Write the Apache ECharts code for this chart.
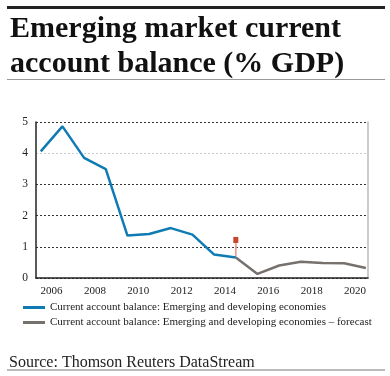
<!DOCTYPE html>
<html><head><meta charset="utf-8">
<script src="https://cdn.jsdelivr.net/npm/echarts@6/dist/echarts.min.js"></script>
<style>html,body{margin:0;padding:0;background:#fff}#c{width:390px;height:376px}</style>
</head><body><div id="c"></div>
<script>
const years = [2005,2006,2007,2008,2009,2010,2011,2012,2013,2014,2015,2016,2017,2018,2019,2020];
const actual = [4.06,4.86,3.85,3.49,1.36,1.41,1.60,1.39,0.75,0.66,null,null,null,null,null,null];
const forecast = [null,null,null,null,null,null,null,null,null,0.66,0.13,0.40,0.52,0.48,0.47,0.32];
const markerX = [2014.5,2014.5];
const markerY = [0.68,1.22];
const xTicks = [2006,2008,2010,2012,2014,2016,2018,2020];
const yTicks = [0,1,2,3,4,5];
const names = ['Current account balance: Emerging and developing economies','Current account balance: Emerging and developing economies \u2013 forecast'];
const titleText = 'Emerging market current\naccount balance (% GDP)';
const sourceText = 'Source: Thomson Reuters DataStream';

const serif = "'Liberation Serif', 'DejaVu Serif', serif";
const pair = (vals) => years.map((y,i)=>[y+0.5, vals[i]]);
const chart = echarts.init(document.getElementById('c'), null, {renderer:'canvas'});
chart.setOption({
  animation:false,
  title:[
    {text:titleText, left:5, top:7, textStyle:{fontFamily:serif, fontWeight:'bold', fontSize:30, lineHeight:35, color:'#111'}},
    {text:sourceText, left:4, top:350, textStyle:{fontFamily:serif, fontWeight:'normal', fontSize:16, color:'#222'}}
  ],
  graphic:[
    {type:'rect', shape:{x:7,y:6,width:378,height:3}, style:{fill:'#222'}},
    {type:'rect', shape:{x:7,y:79,width:378,height:1}, style:{fill:'#999'}},
    {type:'rect', shape:{x:7,y:369,width:378,height:2}, style:{fill:'#bbb'}}
  ],
  legend:{
    orient:'vertical', left:18, top:297, itemWidth:22, itemHeight:3, itemGap:4,
    icon:'rect',
    textStyle:{fontFamily:serif, fontSize:11, color:'#222'},
    data:[{name:names[0]},{name:names[1]}]
  },
  grid:{left:36, right:22, top:122, bottom:98},
  xAxis:{
    type:'value', min:2005.28, max:2020.6,
    axisLine:{show:true, lineStyle:{color:'#222', width:1.5}},
    axisTick:{show:false},
    splitLine:{show:false},
    axisLabel:{customValues:xTicks, fontFamily:serif, fontSize:11, color:'#222', margin:8, formatter:v=>String(v)}
  },
  yAxis:[{
    type:'value', min:0, max:5, interval:1,
    axisLine:{show:true, lineStyle:{color:'#222', width:1.5}},
    axisTick:{show:false},
    axisLabel:{fontFamily:serif, fontSize:11.5, color:'#222', margin:8},
    splitLine:{show:true, lineStyle:{color:['#333','#333','#333','#333','#ccc','#333'], type:[2,2], width:1}}
  },{
    type:'value', min:0, max:5, position:'right',
    axisLine:{show:true, lineStyle:{color:'#bbb', width:1.5}},
    axisTick:{show:false}, axisLabel:{show:false}, splitLine:{show:false}
  }],
  series:[
    {name:'marker', type:'line', data:markerX.map((x,i)=>[x, markerY[i]]),
     symbol:(v,p)=>p.dataIndex===1?'rect':'none', symbolSize:[5,6], showSymbol:true,
     lineStyle:{color:'#e8a294', width:1.8, type:'solid'}, itemStyle:{color:'#c9442c'}, z:1},
    {name:names[0], type:'line', data:pair(actual), showSymbol:false, symbol:'none', lineStyle:{color:'#0f7bb3', width:2.5}, itemStyle:{color:'#0f7bb3'}, z:3},
    {name:names[1], type:'line', data:pair(forecast), showSymbol:false, symbol:'none', lineStyle:{color:'#77716d', width:2.5}, itemStyle:{color:'#77716d'}, z:3}
  ]
});
</script></body></html>
